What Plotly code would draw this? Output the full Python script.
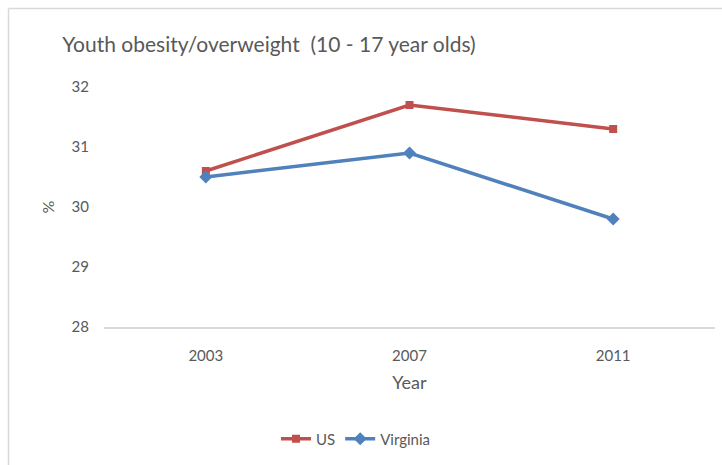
import plotly.graph_objects as go

years = ["2003", "2007", "2011"]
us_values = [30.6, 31.7, 31.3]
virginia_values = [30.5, 30.9, 29.8]
y_ticks = [28, 29, 30, 31, 32]

W, H = 722, 465
L, R, T, B = 104, 7, 87, 138
pw, ph = W - L - R, H - T - B

def px_x(x):
    return (x - L) / pw

def px_y(y):
    return (H - B - y) / ph

text_col = "#595959"
font_family = "Lato, 'Open Sans', sans-serif"

fig = go.Figure()
fig.add_trace(go.Scatter(
    x=years, y=us_values, name="US", mode="lines+markers",
    line=dict(color="#C0504D", width=3.5),
    marker=dict(symbol="square", size=8, color="#C0504D"),
))
fig.add_trace(go.Scatter(
    x=years, y=virginia_values, name="Virginia", mode="lines+markers",
    line=dict(color="#4F81BD", width=3.5),
    marker=dict(symbol="diamond", size=10, color="#4F81BD"),
))

fig.update_layout(
    width=W, height=H,
    margin=dict(l=L, r=R, t=T, b=B),
    paper_bgcolor="white", plot_bgcolor="white",
    font=dict(family=font_family, color=text_col, size=15),
    title=dict(
        text="Youth obesity/overweight  (10 - 17 year olds)",
        x=px_x(269), xanchor="center", xref="paper",
        y=1 - 45 / H, yanchor="middle",
        font=dict(size=21, color=text_col, family=font_family),
    ),
    xaxis=dict(
        type="category", range=[-0.5, 2.5], showgrid=False, showline=True,
        linecolor="#D9D9D9", linewidth=1.5, ticks="",
        tickfont=dict(size=15), ticklabelstandoff=14,
        title=dict(text="Year", font=dict(size=18), standoff=14),
    ),
    yaxis=dict(
        range=[28, 32], tickvals=y_ticks, showgrid=False, zeroline=False,
        showline=False, ticks="", tickfont=dict(size=15),
        ticklabelstandoff=14,
        title=dict(text="%", font=dict(size=16), standoff=12),
    ),
    legend=dict(
        orientation="h", x=px_x(356), xanchor="center",
        y=px_y(439), yanchor="middle",
        font=dict(size=15, color=text_col),
        itemwidth=30, tracegroupgap=0,
    ),
    showlegend=True,
    shapes=[
        dict(type="line", xref="paper", yref="paper",
             x0=px_x(8.5), x1=px_x(W), y0=px_y(8.5), y1=px_y(8.5),
             line=dict(color="#D9D9D9", width=1.5)),
        dict(type="line", xref="paper", yref="paper",
             x0=px_x(8.5), x1=px_x(8.5), y0=px_y(8.5), y1=px_y(H),
             line=dict(color="#D9D9D9", width=1.5)),
    ],
)

fig.write_html("out.html")
